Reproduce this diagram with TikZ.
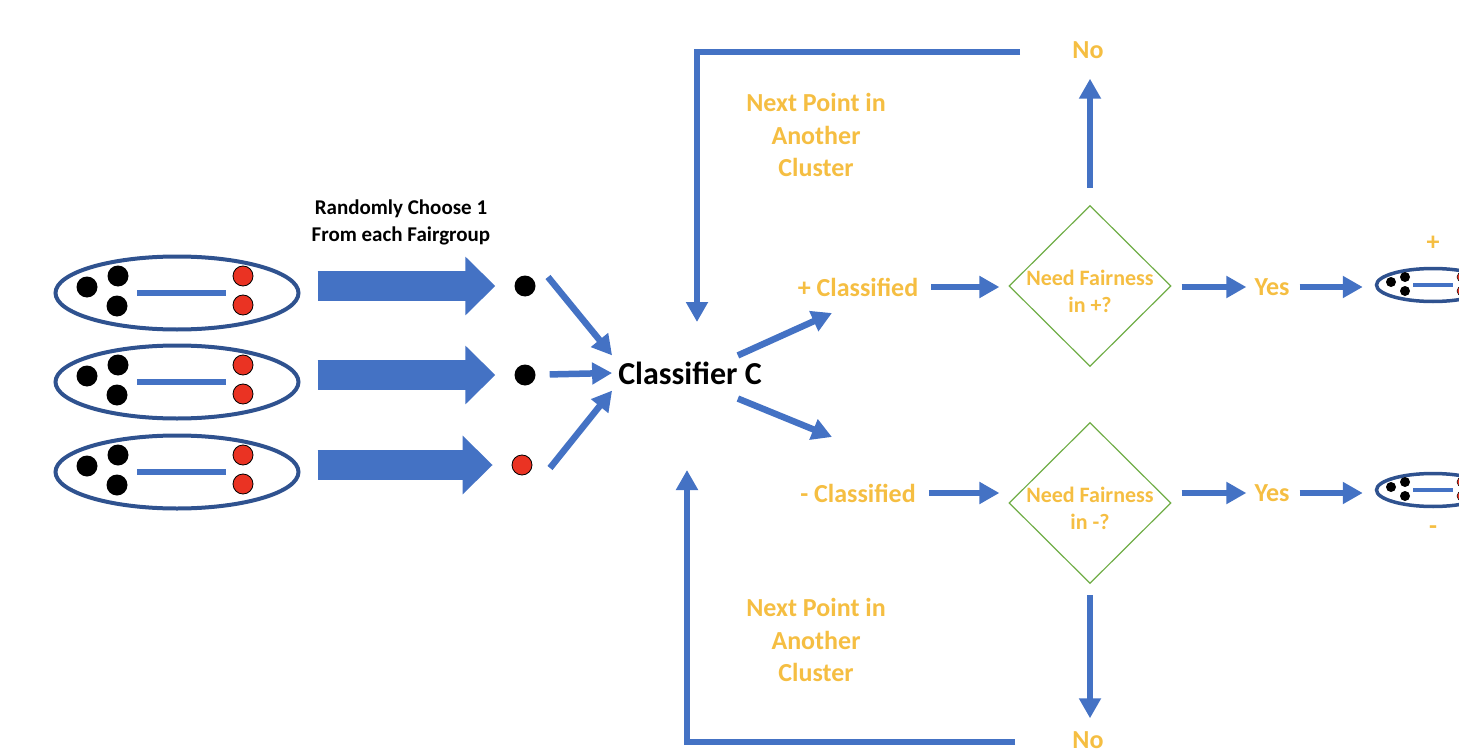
\documentclass[tikz,border=0pt]{standalone}
\usepackage{fontspec}
\setmainfont{Carlito}
\usetikzlibrary{shapes.geometric,arrows.meta}
\definecolor{flowblue}{RGB}{68,114,196}
\definecolor{ringblue}{RGB}{47,82,143}
\definecolor{gold}{RGB}{245,190,66}
\definecolor{decgreen}{RGB}{112,173,71}
\definecolor{dotred}{RGB}{234,51,35}
\tikzset{
  group/.style={ellipse, draw=ringblue, line width=4pt, minimum width=243pt, minimum height=73pt, inner sep=0pt},
  smallgroup/.style={ellipse, draw=ringblue, line width=3.5pt, minimum width=113pt, minimum height=33pt, inner sep=0pt},
  bdot/.style={circle, fill=black, minimum size=21pt, inner sep=0pt},
  rdot/.style={circle, fill=dotred, draw=black, line width=0.8pt, minimum size=20pt, inner sep=0pt},
  sbdot/.style={circle, fill=black, minimum size=10pt, inner sep=0pt},
  srdot/.style={circle, fill=dotred, draw=black, line width=0.5pt, minimum size=10pt, inner sep=0pt},
  bar/.style={draw=flowblue, line width=6pt},
  fat/.style={draw=flowblue, line width=30pt, -{Triangle[length=30pt,width=57pt]}},
  flow/.style={draw=flowblue, line width=6.5pt, -{Triangle[length=20pt,width=21pt]}},
  goldtext/.style={text=gold, inner sep=0pt, align=center, font=\bfseries\fontsize{26}{32.5}\selectfont},
  decide/.style={diamond, draw=decgreen, line width=1.2pt, minimum width=162pt, minimum height=161pt, inner sep=0pt},
  dectext/.style={text=gold, align=center, yshift=-5pt, font=\bfseries\fontsize{22}{27}\selectfont},
}
\begin{document}
\begin{tikzpicture}[x=1pt, y=-1pt]
  \useasboundingbox (0,0) rectangle (1459,754);
  \clip (0,0) rectangle (1459,754);

  % fair groups
  \foreach \i/\y in {1/293, 2/382, 3/472} {
    \node[group] (g\i) at (177,\y) {};
    \begin{scope}[shift={(177,\y)}]
      \node[bdot] at (-90,-6) {};
      \node[bdot] at (-59,-17) {};
      \node[bdot] at (-60,13) {};
      \node[rdot] at (66,-17) {};
      \node[rdot] at (66,12) {};
      \draw[bar] (-40,0) -- (49,0);
    \end{scope}
  }

  % picked points
  \node[bdot] (p1) at (525,286) {};
  \node[bdot] (p2) at (525,375) {};
  \node[rdot] (p3) at (522,465) {};

  \node[font=\bfseries\fontsize{21}{27}\selectfont, align=center] (pick) at (401,222)
    {Randomly Choose 1\\From each Fairgroup};

  \draw[fat, shorten <=17pt, shorten >=19pt] (g1.east |- p1) -- (p1.west);
  \draw[fat, shorten <=17pt, shorten >=19pt] (g2.east |- p2) -- (p2.west);
  \draw[fat, shorten <=17pt, shorten >=19pt] (g3.east |- p3) -- (p3.west);

  % classifier
  \node[inner sep=6pt, font=\bfseries\fontsize{32}{38}\selectfont] (clf) at (690,373) {Classifier C};

  \draw[flow] ([xshift=23pt,yshift=9pt]p1.center) -- (clf.north west);
  \draw[flow, shorten <=14pt] (p2) -- (clf.west);
  \draw[flow] ([xshift=28pt,yshift=-3pt]p3.center) -- (clf.south west);

  \node[goldtext] (pc) at (858,287) {+ Classified};
  \node[goldtext] (mc) at (858,493) {- Classified};
  \coordinate (pcin) at (832,313);
  \coordinate (mcin) at (832,437);
  \draw[flow] ([xshift=-30pt]clf.north east) -- (pcin);
  \draw[flow] ([xshift=-30pt,yshift=-8pt]clf.south east) -- (mcin);

  % decisions
  \node[decide, label={[dectext]center:{Need Fairness\\in +?}}] (dec1) at (1090,286) {};
  \node[decide, label={[dectext]center:{Need Fairness\\in -?}}] (dec2) at (1090,503) {};

  \draw[flow, shorten <=13pt, shorten >=9pt] (pc.east) -- (pc.east -| dec1.west);
  \draw[flow, shorten <=13pt, shorten >=9pt] (mc.east) -- (mc.east -| dec2.west);

  \node[goldtext] (yes1) at (1272,287) {Yes};
  \node[goldtext] (yes2) at (1272,493) {Yes};
  \draw[flow, shorten <=10pt, shorten >=8pt] (dec1.east |- yes1) -- (yes1.west);
  \draw[flow, shorten <=10pt, shorten >=8pt] (dec2.east |- yes2) -- (yes2.west);

  % fair output groups
  \foreach \i/\y in {1/285, 2/490} {
    \node[smallgroup] (s\i) at (1433,\y) {};
    \begin{scope}[shift={(1433,\y)}]
      \node[sbdot] at (-42,-3) {};
      \node[sbdot] at (-28,-8) {};
      \node[sbdot] at (-28,6) {};
      \node[srdot] at (29,-8) {};
      \node[srdot] at (29,6) {};
      \draw[draw=flowblue, line width=3.5pt] (-20,0) -- (20,0);
    \end{scope}
  }
  \draw[flow, shorten <=10pt, shorten >=12pt] (yes1.east) -- (s1.west |- yes1);
  \draw[flow, shorten <=10pt, shorten >=12pt] (yes2.east) -- (s2.west |- yes2);
  \node[goldtext] (plus) at (1433,243) {+};
  \node[goldtext] (minus) at (1433,530) {-};

  % no branches
  \node[goldtext] (no1) at (1088,50) {No};
  \node[goldtext] (no2) at (1088,740) {No};
  \draw[flow, shorten <=17pt, shorten >=20pt] (dec1.north) -- (dec1.north |- no1.south);
  \draw[flow, shorten <=11pt, shorten >=13pt] (dec2.south) -- (dec2.south |- no2.north);

  \coordinate (topend) at (1020,52);
  \coordinate (topin) at (697,322);
  \coordinate (botend) at (1015,742);
  \coordinate (botin) at (687,470);
  \draw[flow] (topend) -| (topin);
  \draw[flow] (botend) -| (botin);

  \node[goldtext] (next1) at (816,135) {Next Point in\\Another\\Cluster};
  \node[goldtext] (next2) at (816,640) {Next Point in\\Another\\Cluster};
\end{tikzpicture}
\end{document}
